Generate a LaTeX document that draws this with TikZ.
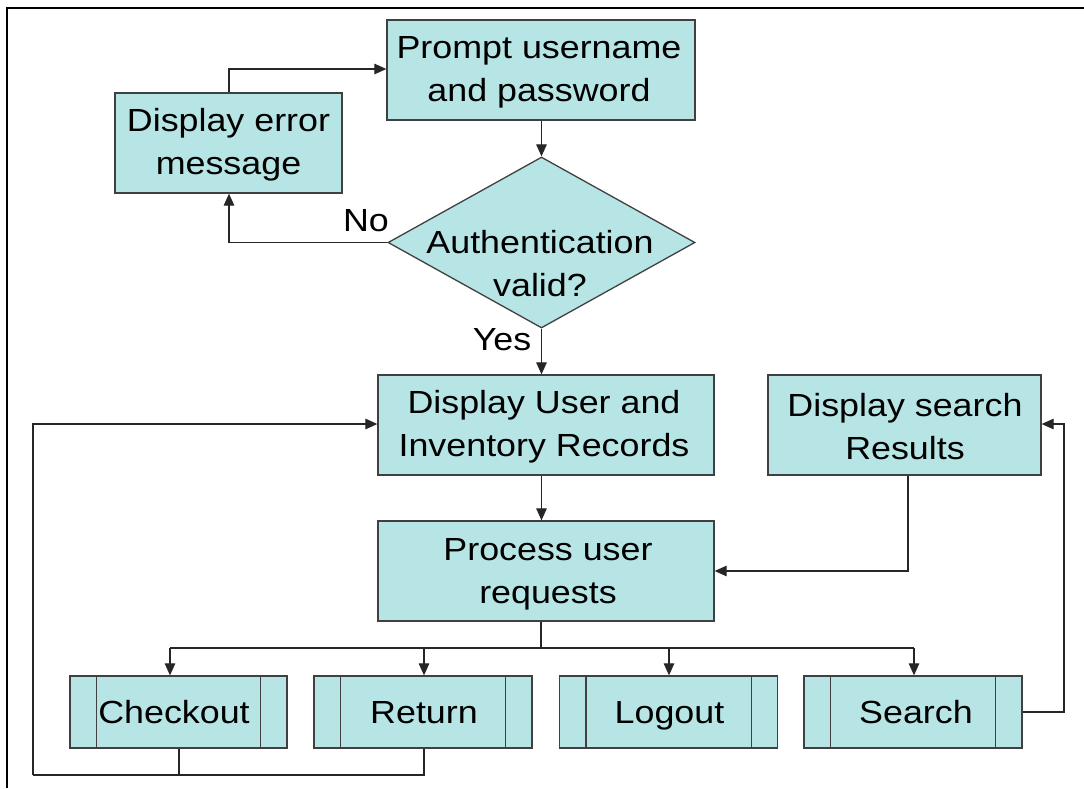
\documentclass[tikz,border=0pt]{standalone}
\usepackage{fontspec}
\setmainfont{Liberation Sans}[FakeStretch=1.12]
\usetikzlibrary{shapes.geometric,arrows.meta,calc}
\definecolor{boxfill}{RGB}{183,229,229}
\definecolor{boxline}{RGB}{64,64,64}
\tikzset{
  txt/.style={font=\fontsize{32}{43}\selectfont, align=center, text=black, inner sep=0pt},
  one/.style={txt, text height=23pt, text depth=0pt},
  pbox/.style={draw=boxline, fill=boxfill, line width=1.3pt, inner sep=0pt},
  link/.style={draw=black!85, line width=1.2pt},
  arr/.style={link, -{Triangle[length=12pt,width=10.5pt]}},
}
\newcommand{\subproc}[1]{%
  \draw[boxline, line width=1.3pt] ($(#1.north west)+(27,0)$) -- ($(#1.south west)+(27,0)$);
  \draw[boxline, line width=1.3pt] ($(#1.north east)+(-27,0)$) -- ($(#1.south east)+(-27,0)$);
}
\begin{document}
\begin{tikzpicture}[x=1pt,y=-1pt]
\useasboundingbox (0,0) rectangle (1084,788);
\fill[white] (0,0) rectangle (1084,788);
\draw[black, line width=2.2pt] (7,788) -- (7,8) -- (1084,8);

\node[pbox, minimum width=308pt, minimum height=100pt] (prompt) at (541,70) {};
\node[txt] (prompttxt) at (539,72.5) {Prompt username\\and password};
\node[pbox, minimum width=227pt, minimum height=100pt] (err) at (228.5,143) {};
\node[txt] (errtxt) at (228.5,145) {Display error\\message};
\node[draw=boxline, fill=boxfill, line width=1.3pt, diamond, inner sep=0pt, aspect=1.8, minimum width=307pt, minimum height=171pt] (auth) at (541.5,242.5) {};
\node[txt] (authtxt) at (540,264) {Authentication\\valid?};
\node[pbox, minimum width=336pt, minimum height=100pt] (user) at (546,425) {};
\node[txt] (usertxt) at (544,427) {Display User and\\Inventory Records};
\node[pbox, minimum width=273pt, minimum height=100pt] (sres) at (904.5,425) {};
\node[txt] (srestxt) at (905,427) {Display search\\Results};
\node[pbox, minimum width=336pt, minimum height=100pt] (proc) at (546,571) {};
\node[txt] (proctxt) at (548,574) {Process user\\requests};

\node[pbox, minimum width=217pt, minimum height=72pt] (chk) at (178.5,712) {};
\node[pbox, minimum width=218pt, minimum height=72pt] (ret) at (423,712) {};
\node[pbox, minimum width=218pt, minimum height=72pt] (logo) at (668.5,712) {};
\node[pbox, minimum width=218pt, minimum height=72pt] (srch) at (913,712) {};
\subproc{chk}\subproc{ret}\subproc{logo}\subproc{srch}
\node[one] (chktxt) at (174,712) {Checkout};
\node[one] (rettxt) at (424,712) {Return};
\node[one] (logotxt) at (669.5,712) {Logout};
\node[one] (srchtxt) at (916,712) {Search};

\node[one] (nolbl) at (366,220) {No};
\node[one] (yeslbl) at (502,339) {Yes};

% top loop
\coordinate (errtop) at (229,69);
\draw[arr] (err.north -| errtop) -- (errtop) -- (prompt.west |- errtop);
\draw[arr] (prompt.south -| auth.north) -- (auth.north);
\coordinate (nocorner) at (229,242.5);
\draw[arr] (auth.west) -- (nocorner) -- (err.south -| nocorner);
\draw[arr] (auth.south) -- (user.north -| auth.south);
\draw[arr] (user.south -| auth.south) -- (proc.north -| auth.south);

% search results to process
\coordinate (srcorner) at (908,571);
\draw[arr] (sres.south -| srcorner) -- (srcorner) -- (proc.east);

% bus
\coordinate (busC) at (541,648);
\coordinate (bus1) at (170,648);
\coordinate (bus2) at (424,648);
\coordinate (bus3) at (669,648);
\coordinate (bus4) at (914,648);
\draw[link] (proc.south -| busC) -- (busC);
\draw[link] (bus1) -- (bus4);
\draw[arr] (bus1) -- (bus1 |- chk.north);
\draw[arr] (bus2) -- (bus2 |- ret.north);
\draw[arr] (bus3) -- (bus3 |- logo.north);
\draw[arr] (bus4) -- (bus4 |- srch.north);

% search loop back
\coordinate (sr1) at (1064,712);
\coordinate (sr2) at (1064,424);
\draw[arr] (srch.east) -- (sr1) -- (sr2) -- (sres.east |- sr2);

% checkout/return loop back
\coordinate (lb1) at (179,775);
\coordinate (lb2) at (424,775);
\coordinate (lb3) at (33,775);
\coordinate (lb4) at (33,424);
\draw[link] (chk.south -| lb1) -- (lb1);
\draw[link] (ret.south -| lb2) -- (lb2) -- (lb3);
\draw[arr] (lb3) -- (lb4) -- (user.west |- lb4);
\end{tikzpicture}
\end{document}
